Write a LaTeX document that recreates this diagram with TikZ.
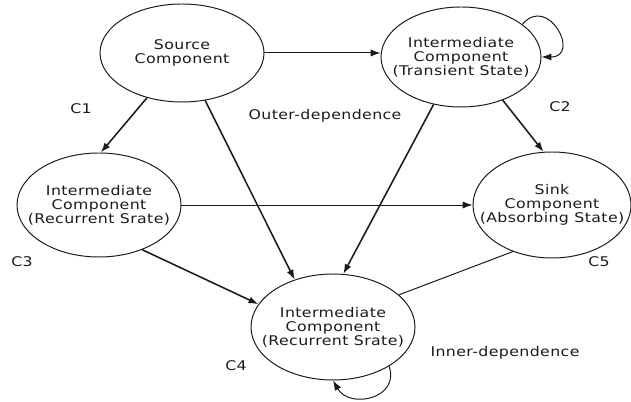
\documentclass[tikz,border=0pt]{standalone}
\usepackage{fontspec}
\setmainfont{DejaVu Sans}[FakeStretch=1.18, LetterSpace=3]
\usepackage{xcolor}
\usepackage{tikz}
\usetikzlibrary{positioning, arrows.meta, shapes.geometric}
\definecolor{inkblack}{HTML}{1A1A1A}

\tikzset{
  comp/.style={draw=inkblack, ellipse, inner sep=0pt, line width=0.7pt},
  comptext/.style={align=center, inner sep=0pt, font=\fontsize{9.5}{10}\selectfont, inkblack},
  deparrow/.style={-{Latex[length=7pt, width=5pt]}, inkblack, line width=1.1pt},
  thinarrow/.style={-{Latex[length=7pt, width=5pt]}, inkblack, line width=0.7pt},
  tag/.style={font=\fontsize{9.5}{10}\selectfont, inkblack}
}

\begin{document}
\begin{tikzpicture}
  \useasboundingbox (0,0) rectangle (15.775,10.025);
  % components
  \node[comp, minimum width=4.1cm, minimum height=2.45cm,
    label={[comptext]center:Source\\Component}] (c1) at (4.55,8.7) {};
  \node[comp, minimum width=4.0cm, minimum height=2.5cm,
    label={[comptext]center:Intermediate\\Component\\(Transient State)}] (c2) at (11.525,8.6) {};
  \node[comp, minimum width=4.1cm, minimum height=2.6cm,
    label={[comptext]center:Intermediate\\Component\\(Recurrent Srate)}] (c3) at (2.475,4.9) {};
  \node[comp, minimum width=3.95cm, minimum height=2.65cm,
    label={[comptext]center:Sink\\Component\\(Absorbing State)}] (c5) at (13.8,4.9) {};
  \node[comp, minimum width=4.1cm, minimum height=2.65cm,
    label={[comptext]center:Intermediate\\Component\\(Recurrent Srate)}] (c4) at (8.325,1.85) {};
  % labels
  \node[tag] (l1) at (2.025,7.3) {C1};
  \node[tag] (l2) at (14.0,7.35) {C2};
  \node[tag] (l3) at (0.55,3.475) {C3};
  \node[tag] (l4) at (5.9,0.875) {C4};
  \node[tag] (l5) at (14.975,3.475) {C5};
  \node[tag] (outer) at (8.125,7.125) {Outer-dependence};
  \node[tag] (inner) at (12.625,1.2) {Inner-dependence};
  % outer-dependence
  \draw[thinarrow] (c1.east) -- (c1.east -| c2.west);
  \draw[deparrow] (c1.232) -- (c3.88);
  \draw[deparrow] (c1.296) -- (c4.129);
  \draw[deparrow] (c2.240) -- (c4.79);
  \draw[deparrow] (c2.314) -- (c5.99);
  \draw[thinarrow] (c3.east) -- (c3.east -| c5.west);
  \draw[deparrow] (c3.314) -- (c4.163);
  \draw[inkblack, line width=0.7pt] (c4.26) -- (c5.230);
  % inner-dependence
  \draw[thinarrow] (c2.28) to[out=50, in=0, looseness=2.7] (c2.east);
  \draw[thinarrow] (c4.-35) to[out=-70, in=-60, looseness=1.5] (c4.south);
\end{tikzpicture}
\end{document}
